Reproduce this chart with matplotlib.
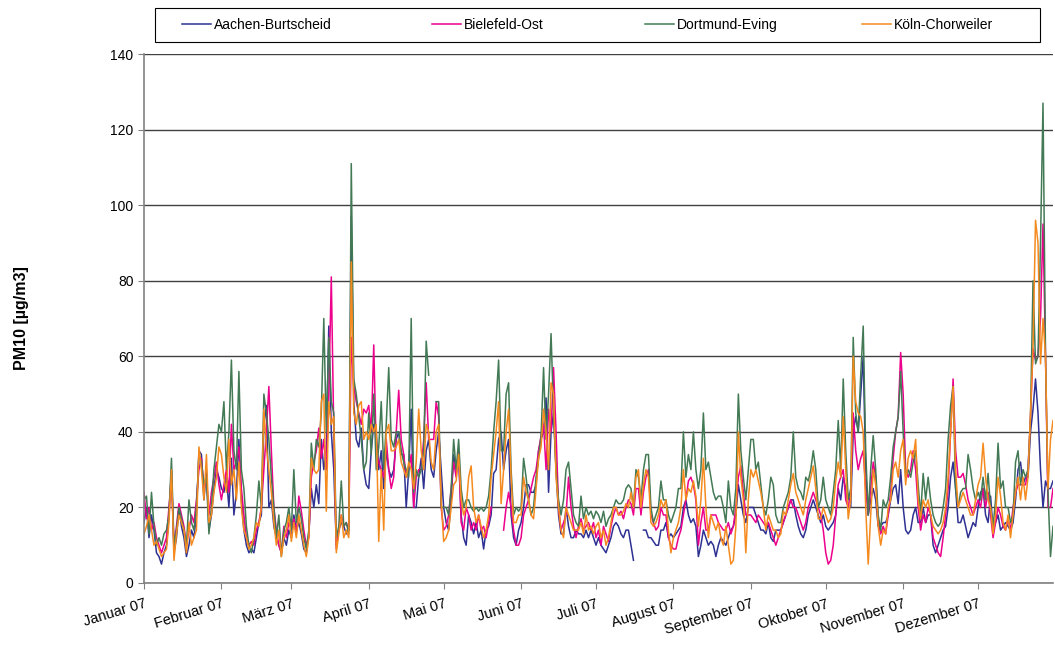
import numpy as np
import pandas as pd
import matplotlib
matplotlib.use("Agg")
import matplotlib.pyplot as plt
from matplotlib.patches import Rectangle

plt.rcParams['font.family'] = ['Liberation Sans', 'DejaVu Sans']

nan = np.nan
stations = ["Aachen-Burtscheid", "Bielefeld-Ost", "Dortmund-Eving", "Köln-Chorweiler"]
colors = ["#2E3192", "#EC008C", "#437A55", "#F58A1F"]
month_labels = ["Januar 07", "Februar 07", "März 07", "April 07", "Mai 07", "Juni 07",
                "Juli 07", "August 07", "September 07", "Oktober 07", "November 07", "Dezember 07"]

aachen = (
    [16, 20, 12, 18, 14, 8, 7, 5, 8, 10, 18, 30, 8, 12, 20, 15, 12, 7, 10, 14, 12, 18, 35, 34, 22, 30, 14, 18, 25, 30, 28]
    + [25, 24, 28, 20, 33, 18, 24, 38, 22, 14, 10, 8, 9, 8, 12, 16, 18, 42, 47, 20, 22, 15, 12, 10, 8, 12, 10, 14]
    + [12, 18, 14, 16, 13, 9, 8, 13, 25, 20, 26, 21, 38, 30, 35, 68, 40, 30, 10, 14, 16, 15, 13, 14, 97, 48, 38, 36, 41, 30, 26]
    + [25, 35, 42, 40, 30, 35, 25, 35, 30, 28, 30, 38, 40, 34, 34, 20, 30, 46, 20, 20, 28, 33, 25, 35, 38, 30, 28, 35, 40, 30]
    + [20, 16, 14, 22, 34, 30, 33, 18, 12, 10, 18, 16, 13, 16, 12, 14, 9, 14, 15, 18, 29, 30, 38, 40, 30, 35, 38, 18, 12, 10, 14]
    + [16, 20, 26, 26, 24, 24, 26, 35, 38, 40, 49, 24, 40, 45, 30, 18, 13, 13, 20, 15, 12, 12, 14, 13, 13, 12, 14, 12, 14, 12]
    + [10, 12, 10, 9, 8, 10, 12, 15, 16, 15, 13, 12, 14, 14, 10, 6, nan, nan, nan, 14, 14, 12, 12, 11, 10, 10, 14, 14, 16, 12, 13]
    + [12, 13, 14, 15, 20, 22, 18, 16, 17, 15, 7, 10, 14, 12, 10, 11, 10, 7, 10, 12, 11, 10, 12, 14, 15, 18, 26, 22, 18, 16, 20]
    + [20, 20, 18, 16, 14, 14, 13, 16, 12, 11, 14, 14, 14, 16, 18, 20, 22, 22, 18, 15, 13, 12, 14, 18, 20, 22, 20, 18, 16, 18]
    + [15, 14, 15, 16, 18, 25, 22, 28, 25, 20, 20, 40, 44, 40, 50, 60, 30, 18, 22, 25, 22, 15, 15, 16, 16, 18, 22, 25, 26, 21, 30]
    + [20, 14, 13, 14, 18, 20, 16, 16, 20, 16, 18, 18, 10, 8, 10, 12, 14, 15, 20, 28, 32, 25, 16, 16, 18, 15, 12, 14, 16, 15]
    + [20, 24, 25, 18, 16, 23, 14, 16, 18, 14, 15, 16, 15, 14, 16, 22, 30, 32, 26, 28, 28, 40, 46, 54, 45, 30, 20, 27, 25, 25, 27]
)
bielefeld = (
    [24, 17, 20, 14, 16, 12, 10, 8, 10, 12, 20, 28, 10, 15, 21, 18, 15, 10, 14, 18, 16, 22, 30, 33, 25, 28, 18, 24, 28, 32, 26]
    + [22, 26, 30, 24, 42, 30, 32, 36, 25, 18, 12, 10, 11, 10, 14, 16, 20, 30, 40, 52, 35, 20, 14, 10, 8, 15, 12, 16]
    + [15, 17, 13, 23, 19, 14, 10, 12, 28, 32, 35, 41, 33, 38, 30, 50, 81, 40, 9, 14, 18, 15, 16, 14, 65, 52, 48, 45, 42, 46, 45]
    + [47, 40, 63, 35, 32, 30, 28, 38, 30, 25, 28, 40, 51, 38, 34, 28, 30, 34, 20, 28, 30, 30, 38, 53, 38, 38, 38, 48, 44, 20]
    + [14, 15, 18, 25, 32, 28, 35, 16, 14, 20, 18, 14, 16, 14, 18, 14, 15, 12, 16, 20, nan, nan, nan, nan, 14, 20, 24, 20, 14, 10, 10]
    + [12, 18, 20, 22, 25, 28, 30, 35, 39, 42, 30, 46, 40, 57, 40, 20, 14, 16, 18, 28, 20, 15, 12, 15, 17, 14, 15, 16, 14, 16]
    + [12, 14, 10, 15, 13, 11, 15, 18, 20, 18, 19, 17, 20, 22, 21, 18, 25, 25, 18, 24, 28, 30, 18, 16, 14, 15, 20, 18, 18, 12, 10]
    + [9, 9, 12, 14, 18, 22, 27, 28, 26, 22, 10, 16, 20, 14, 14, 18, 18, 18, 16, 15, 14, 14, 16, 13, 15, 20, 28, 31, 24, 18, 18]
    + [18, 17, 16, 18, 17, 16, 15, 16, 14, 12, 10, 12, 14, 16, 18, 20, 22, 20, 20, 18, 16, 14, 16, 20, 22, 24, 22, 20, 18, 14]
    + [8, 5, 6, 10, 18, 26, 28, 30, 22, 20, 24, 45, 35, 30, 33, 35, 25, 18, 25, 32, 28, 16, 13, 15, 13, 18, 24, 33, 40, 44, 61]
    + [50, 30, 28, 30, 35, 30, 20, 14, 18, 16, 20, 18, 12, 10, 8, 7, 12, 18, 25, 40, 54, 35, 28, 28, 29, 26, 22, 20, 18, 20]
    + [22, 20, 25, 20, 24, 18, 12, 16, 20, 18, 15, 14, 17, 14, 20, 24, 26, 26, 26, 26, 30, 44, 62, 59, 60, 70, 95, 60, 20, 20, 25]
)
dortmund = (
    [22, 23, 13, 24, 15, 10, 12, 10, 13, 14, 18, 33, 10, 14, 20, 17, 14, 10, 22, 16, 14, 20, 34, 32, 26, 28, 13, 20, 30, 36, 42]
    + [40, 48, 30, 40, 59, 35, 30, 56, 30, 25, 15, 10, 8, 12, 18, 27, 20, 50, 45, 38, 28, 20, 12, 18, 7, 14, 16, 20]
    + [14, 30, 16, 20, 17, 12, 9, 14, 37, 30, 38, 36, 45, 70, 40, 65, 48, 45, 12, 15, 27, 15, 16, 13, 111, 54, 50, 44, 38, 30, 32]
    + [45, 34, 50, 30, 36, 48, 30, 42, 57, 38, 36, 40, 40, 35, 32, 30, 28, 70, 24, 30, 28, 30, 35, 64, 55, nan, nan, 48, 48, 20]
    + [20, 20, 18, 25, 38, 30, 38, 25, 20, 22, 22, 20, 19, 20, 19, 20, 19, 20, 23, 30, 40, 48, 59, 35, 35, 50, 53, 30, 18, 20, 19]
    + [20, 33, 28, 22, 18, 20, 28, 33, 39, 57, 38, 50, 66, 45, 30, 22, 18, 22, 30, 32, 25, 18, 16, 15, 23, 17, 20, 18, 19, 17]
    + [19, 18, 16, 19, 15, 17, 18, 20, 22, 21, 21, 22, 25, 26, 25, 20, 30, 28, 22, 30, 34, 34, 20, 16, 18, 20, 27, 22, 22, 18, 16]
    + [18, 20, 25, 25, 40, 28, 34, 30, 40, 30, 25, 30, 45, 30, 32, 28, 24, 22, 23, 23, 20, 16, 27, 20, 18, 25, 50, 35, 28, 22, 30]
    + [38, 38, 30, 32, 26, 20, 18, 22, 28, 26, 18, 16, 16, 20, 22, 24, 28, 40, 28, 25, 24, 22, 28, 27, 30, 35, 30, 20, 22, 28]
    + [22, 20, 18, 24, 30, 43, 30, 54, 35, 22, 25, 65, 45, 40, 55, 68, 35, 18, 30, 39, 30, 18, 14, 22, 20, 22, 28, 36, 40, 44, 56]
    + [40, 28, 30, 28, 32, 35, 26, 18, 29, 22, 28, 22, 18, 16, 15, 16, 20, 25, 38, 47, 52, 25, 20, 24, 25, 25, 34, 30, 25, 22]
    + [24, 22, 28, 22, 29, 20, 15, 22, 37, 25, 27, 20, 20, 16, 18, 32, 35, 26, 30, 28, 30, 44, 80, 58, 60, 90, 127, 60, 24, 7, 15]
)
koeln = (
    [13, 15, 18, 14, 10, 11, 9, 7, 8, 9, 16, 30, 6, 13, 18, 16, 14, 8, 16, 10, 12, 14, 36, 30, 22, 34, 16, 18, 24, 28, 36]
    + [34, 28, 24, 38, 26, 30, 22, 32, 20, 14, 12, 9, 10, 12, 16, 15, 20, 46, 36, 30, 24, 16, 10, 14, 7, 12, 14, 18]
    + [11, 16, 12, 18, 14, 10, 7, 12, 33, 30, 29, 30, 48, 50, 19, 48, 42, 44, 8, 13, 18, 12, 14, 12, 85, 45, 42, 47, 48, 38, 40]
    + [38, 42, 40, 42, 11, 30, 14, 40, 42, 35, 35, 36, 38, 32, 30, 28, 32, 30, 25, 32, 46, 35, 30, 42, 40, 32, 30, 40, 42, 22]
    + [11, 12, 14, 20, 26, 27, 34, 22, 18, 20, 28, 31, 20, 16, 18, 15, 12, 14, 18, 28, 34, 40, 48, 21, 30, 40, 46, 28, 16, 16, 18]
    + [18, 28, 24, 22, 18, 17, 25, 33, 36, 46, 40, 30, 53, 50, 28, 20, 14, 12, 20, 18, 16, 14, 14, 14, 16, 13, 18, 14, 15, 13]
    + [15, 16, 12, 14, 10, 12, 16, 20, 20, 18, 18, 19, 21, 20, 24, 20, 28, 30, 20, 26, 30, 28, 16, 15, 16, 18, 22, 20, 22, 14, 8]
    + [12, 14, 16, 20, 30, 22, 25, 24, 27, 23, 15, 22, 33, 20, 12, 18, 16, 14, 16, 12, 10, 15, 10, 5, 6, 15, 40, 28, 22, 8, 22]
    + [30, 28, 30, 27, 24, 20, 14, 18, 16, 14, 14, 12, 13, 19, 18, 22, 26, 29, 24, 22, 20, 18, 22, 25, 28, 31, 25, 17, 17, 20]
    + [18, 16, 17, 20, 27, 32, 28, 44, 30, 17, 22, 60, 48, 45, 44, 40, 20, 5, 18, 30, 26, 15, 10, 14, 13, 20, 22, 30, 32, 28, 35]
    + [38, 26, 33, 35, 33, 38, 22, 17, 22, 20, 22, 18, 15, 14, 13, 14, 16, 20, 28, 40, 52, 30, 20, 22, 24, 22, 20, 18, 18, 22]
    + [26, 28, 37, 28, 22, 20, 13, 18, 28, 23, 16, 14, 18, 12, 18, 24, 28, 22, 28, 22, 28, 45, 62, 96, 90, 58, 70, 60, 25, 38, 43]
)

dates = pd.date_range("2007-01-01", periods=365, freq="D")
series = [aachen, bielefeld, dortmund, koeln]

W, H = 1055, 655
fig = plt.figure(figsize=(W/100, H/100), dpi=100)
ax = fig.add_axes([144/W, 1-583/H, 909/W, 529/H])

handles = []
for name, vals, col in zip(stations, series, colors):
    h, = ax.plot(dates, np.array(vals, dtype=float), color=col, lw=1.1, label=name)
    handles.append(h)

ax.set_ylim(0, 140)
ax.set_yticks(range(0, 141, 20))
ax.set_xlim(dates[0], dates[-1])
month_starts = pd.date_range("2007-01-01", periods=12, freq="MS")
ax.set_xticks(month_starts)
ax.set_xticklabels(month_labels, rotation=17, ha="right", rotation_mode="anchor", fontsize=10.5)
ax.tick_params(axis='y', labelsize=10, length=4, color="#808080")
ax.tick_params(axis='x', length=4, color="#808080", pad=6)
ax.yaxis.grid(True, color="#404040", lw=1.0)
ax.set_axisbelow(True)
for s in ["top", "right"]:
    ax.spines[s].set_visible(False)
for s in ["left", "bottom"]:
    ax.spines[s].set_color("#808080")
    ax.spines[s].set_linewidth(1.2)

fig.text(22/W, 1-318/H, "PM10 [µg/m3]", rotation=90, fontweight="bold",
         fontsize=11.5, ha="center", va="center")

# legend frame
fig.add_artist(Rectangle((155/W, 1-42/H), 885/W, 34/H, transform=fig.transFigure,
                         facecolor="white", edgecolor="black", lw=0.8, zorder=1))
entry_x = [182, 432, 645, 862]
for h, name, xs in zip(handles, stations, entry_x):
    fig.legend(handles=[h], labels=[name], loc="center left",
               bbox_to_anchor=(xs/W, 1-25/H), fontsize=10, frameon=False,
               handlelength=2.1, handletextpad=0.2, borderpad=0, borderaxespad=0)

fig.savefig("out.png", dpi=100)
